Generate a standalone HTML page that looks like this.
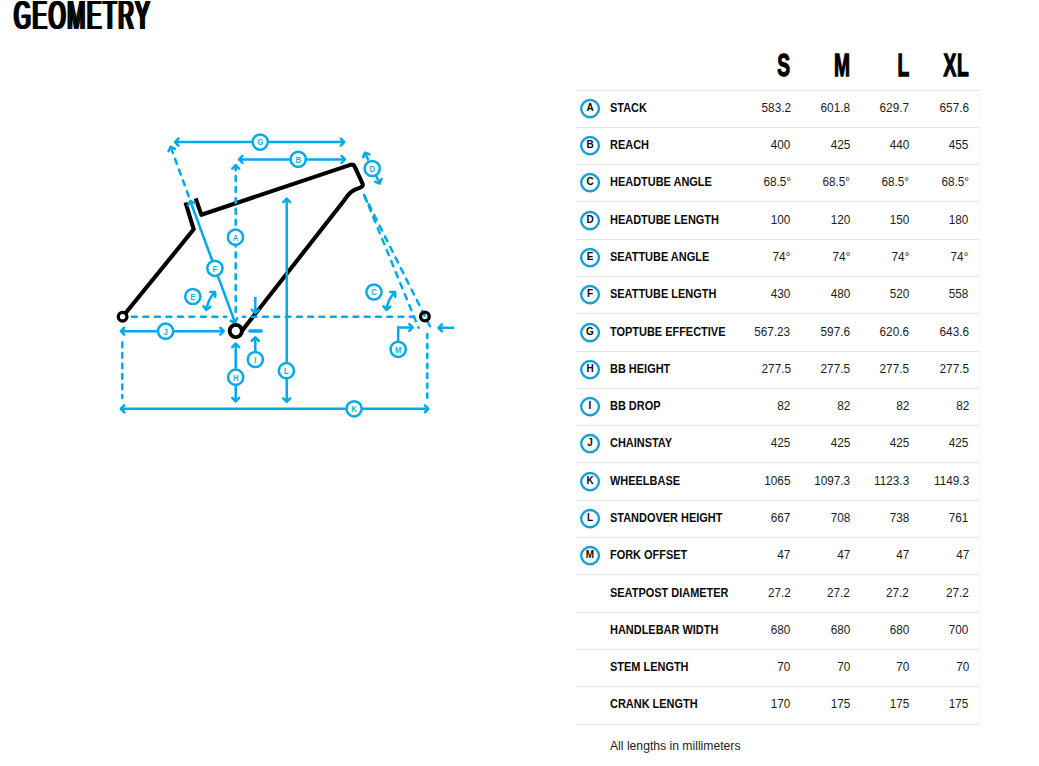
<!DOCTYPE html>
<html lang="en">
<head>
<meta charset="utf-8">
<title>Geometry</title>
<style>
html,body{margin:0;padding:0;background:#fff;}
body{width:1039px;height:766px;position:relative;overflow:hidden;font-family:"Liberation Sans",sans-serif;color:#111;}
h1{position:absolute;left:14.4px;top:-9px;margin:0;font-size:40.5px;line-height:48px;font-weight:normal;color:#000;transform-origin:0 0;transform:scaleX(0.532);white-space:nowrap;letter-spacing:3.4px;text-shadow:2.8px 0 0 #000,-2.8px 0 0 #000;}
.dia{position:absolute;left:0;top:0;}
.hd{position:absolute;top:45.9px;height:40px;line-height:40px;font-size:30px;font-weight:bold;color:#000;text-align:right;white-space:nowrap;transform-origin:100% 50%;transform:scale(0.64,1.03);-webkit-text-stroke:1.3px #000;}
.ln{position:absolute;left:576px;width:404px;height:1px;background:#e5e5e5;}
.row{position:absolute;left:576px;width:404px;height:36px;}
.edge{position:absolute;left:979px;top:91px;width:1px;height:634px;background:#f8f8f8;}
.ic{position:absolute;left:4px;top:8px;width:20px;height:20px;font-size:10px;line-height:20px;font-weight:bold;text-align:center;color:#0a0a0a;}
.rings{position:absolute;left:570px;top:0;}
.lb{position:absolute;left:34.4px;top:0;line-height:35px;font-size:12.8px;font-weight:bold;color:#0a0a0a;white-space:nowrap;transform-origin:0 50%;transform:scaleX(0.856);}
.v{position:absolute;top:0;line-height:35px;font-size:12.8px;color:#1c1c1c;text-align:right;white-space:nowrap;transform-origin:100% 50%;transform:scaleX(0.92);}
.v0{right:189.4px} .v1{right:130px} .v2{right:70.6px} .v3{right:11.2px}
.note{position:absolute;left:610.3px;top:737px;font-size:12.4px;line-height:18px;color:#1c1c1c;white-space:nowrap;transform-origin:0 50%;transform:scaleX(0.982);}
</style>
</head>
<body>
<h1>GEOMETRY</h1>
<svg class="dia" width="520" height="440" viewBox="0 0 520 440">
<path d="M122.6,316.7 L193.7,229.4 L185.5,202.5" fill="none" stroke="#000" stroke-width="4.1" stroke-linejoin="miter" stroke-linecap="butt"/>
<path d="M195.7,198.3 L201.4,214.8 L350.3,164.9 Q353.4,163.9 354.7,166.7 L362.4,183.4 Q363.7,186.3 360.8,187.3 L354.5,189.8 Q349,192.5 344.5,200 L239.5,334" fill="none" stroke="#000" stroke-width="4.1" stroke-linejoin="round" stroke-linecap="butt"/>
<line x1="131.90" y1="316.80" x2="226.40" y2="316.80" stroke="#00a9ea" stroke-width="2.5" stroke-linecap="round" stroke-dasharray="5.0 6.5"/>
<line x1="242.90" y1="316.80" x2="245.30" y2="316.80" stroke="#00a9ea" stroke-width="2.5" stroke-linecap="round"/>
<line x1="251.75" y1="316.80" x2="414.00" y2="316.80" stroke="#00a9ea" stroke-width="2.5" stroke-linecap="round" stroke-dasharray="4.8 6.5"/>
<line x1="175.00" y1="142.10" x2="344.30" y2="142.10" stroke="#00a9ea" stroke-width="2.5" stroke-linecap="butt"/>
<polyline points="340.85,145.55 344.30,142.10 340.85,138.65" fill="none" stroke="#00a9ea" stroke-width="2.5" stroke-linecap="round" stroke-linejoin="round"/>
<polyline points="178.45,138.65 175.00,142.10 178.45,145.55" fill="none" stroke="#00a9ea" stroke-width="2.5" stroke-linecap="round" stroke-linejoin="round"/>
<line x1="239.00" y1="159.40" x2="345.00" y2="159.40" stroke="#00a9ea" stroke-width="2.5" stroke-linecap="butt"/>
<polyline points="341.55,162.85 345.00,159.40 341.55,155.95" fill="none" stroke="#00a9ea" stroke-width="2.5" stroke-linecap="round" stroke-linejoin="round"/>
<polyline points="242.45,155.95 239.00,159.40 242.45,162.85" fill="none" stroke="#00a9ea" stroke-width="2.5" stroke-linecap="round" stroke-linejoin="round"/>
<line x1="235.70" y1="312.00" x2="235.70" y2="165.20" stroke="#00a9ea" stroke-width="2.5" stroke-linecap="round" stroke-dasharray="5.1 5.8"/>
<polyline points="239.15,168.65 235.70,165.20 232.25,168.65" fill="none" stroke="#00a9ea" stroke-width="2.5" stroke-linecap="round" stroke-linejoin="round"/>
<line x1="188.70" y1="196.10" x2="170.60" y2="146.80" stroke="#00a9ea" stroke-width="2.5" stroke-linecap="round" stroke-dasharray="5.2 6.3"/>
<polyline points="175.03,148.85 170.60,146.80 168.55,151.23" fill="none" stroke="#00a9ea" stroke-width="2.5" stroke-linecap="round" stroke-linejoin="round"/>
<line x1="235.10" y1="322.80" x2="190.30" y2="201.00" stroke="#00a9ea" stroke-width="2.5" stroke-linecap="butt"/>
<polyline points="194.73,203.05 190.30,201.00 188.25,205.43" fill="none" stroke="#00a9ea" stroke-width="2.5" stroke-linecap="round" stroke-linejoin="round"/>
<polyline points="230.67,320.75 235.10,322.80 237.15,318.37" fill="none" stroke="#00a9ea" stroke-width="2.5" stroke-linecap="round" stroke-linejoin="round"/>
<line x1="286.70" y1="198.70" x2="286.70" y2="401.80" stroke="#00a9ea" stroke-width="2.5" stroke-linecap="butt"/>
<polyline points="283.25,398.35 286.70,401.80 290.15,398.35" fill="none" stroke="#00a9ea" stroke-width="2.5" stroke-linecap="round" stroke-linejoin="round"/>
<polyline points="290.15,202.15 286.70,198.70 283.25,202.15" fill="none" stroke="#00a9ea" stroke-width="2.5" stroke-linecap="round" stroke-linejoin="round"/>
<line x1="235.70" y1="343.60" x2="235.70" y2="401.40" stroke="#00a9ea" stroke-width="2.5" stroke-linecap="butt"/>
<polyline points="232.25,397.95 235.70,401.40 239.15,397.95" fill="none" stroke="#00a9ea" stroke-width="2.5" stroke-linecap="round" stroke-linejoin="round"/>
<polyline points="239.15,347.05 235.70,343.60 232.25,347.05" fill="none" stroke="#00a9ea" stroke-width="2.5" stroke-linecap="round" stroke-linejoin="round"/>
<line x1="255.30" y1="352.00" x2="255.30" y2="337.30" stroke="#00a9ea" stroke-width="2.5" stroke-linecap="butt"/>
<polyline points="258.75,340.75 255.30,337.30 251.85,340.75" fill="none" stroke="#00a9ea" stroke-width="2.5" stroke-linecap="round" stroke-linejoin="round"/>
<line x1="255.30" y1="297.00" x2="255.30" y2="313.20" stroke="#00a9ea" stroke-width="2.5" stroke-linecap="butt"/>
<polyline points="251.85,309.75 255.30,313.20 258.75,309.75" fill="none" stroke="#00a9ea" stroke-width="2.5" stroke-linecap="round" stroke-linejoin="round"/>
<line x1="249.90" y1="331.00" x2="261.20" y2="331.00" stroke="#00a9ea" stroke-width="3.4" stroke-linecap="round"/>
<line x1="120.80" y1="331.20" x2="223.80" y2="331.20" stroke="#00a9ea" stroke-width="2.5" stroke-linecap="butt"/>
<polyline points="220.35,334.65 223.80,331.20 220.35,327.75" fill="none" stroke="#00a9ea" stroke-width="2.5" stroke-linecap="round" stroke-linejoin="round"/>
<polyline points="124.25,327.75 120.80,331.20 124.25,334.65" fill="none" stroke="#00a9ea" stroke-width="2.5" stroke-linecap="round" stroke-linejoin="round"/>
<line x1="120.80" y1="408.80" x2="428.40" y2="408.80" stroke="#00a9ea" stroke-width="2.5" stroke-linecap="butt"/>
<polyline points="424.95,412.25 428.40,408.80 424.95,405.35" fill="none" stroke="#00a9ea" stroke-width="2.5" stroke-linecap="round" stroke-linejoin="round"/>
<polyline points="124.25,405.35 120.80,408.80 124.25,412.25" fill="none" stroke="#00a9ea" stroke-width="2.5" stroke-linecap="round" stroke-linejoin="round"/>
<line x1="122.30" y1="342.60" x2="122.30" y2="398.00" stroke="#00a9ea" stroke-width="2.5" stroke-linecap="round" stroke-dasharray="4.6 5.9"/>
<line x1="427.30" y1="334.00" x2="427.30" y2="398.00" stroke="#00a9ea" stroke-width="2.5" stroke-linecap="round" stroke-dasharray="4.3 5.6"/>
<line x1="364.20" y1="195.10" x2="418.60" y2="327.80" stroke="#00a9ea" stroke-width="2.5" stroke-linecap="round" stroke-dasharray="5.4 6.5"/>
<line x1="364.20" y1="195.10" x2="366.90" y2="201.70" stroke="#00a9ea" stroke-width="2.5" stroke-linecap="round"/>
<line x1="368.90" y1="204.40" x2="430.60" y2="327.60" stroke="#00a9ea" stroke-width="2.5" stroke-linecap="round" stroke-dasharray="5.4 6.5"/>
<line x1="454.00" y1="327.80" x2="438.50" y2="327.80" stroke="#00a9ea" stroke-width="2.5" stroke-linecap="butt"/>
<polyline points="441.95,324.35 438.50,327.80 441.95,331.25" fill="none" stroke="#00a9ea" stroke-width="2.5" stroke-linecap="round" stroke-linejoin="round"/>
<polyline points="398.2,342 398.2,327.5 412.5,327.5" fill="none" stroke="#00a9ea" stroke-width="2.5"/>
<polyline points="409.25,330.95 412.70,327.50 409.25,324.05" fill="none" stroke="#00a9ea" stroke-width="2.5" stroke-linecap="round" stroke-linejoin="round"/>
<line x1="368.50" y1="160.50" x2="364.90" y2="152.70" stroke="#00a9ea" stroke-width="2.5" stroke-linecap="butt"/>
<polyline points="369.48,154.39 364.90,152.70 363.21,157.28" fill="none" stroke="#00a9ea" stroke-width="2.5" stroke-linecap="round" stroke-linejoin="round"/>
<line x1="376.00" y1="175.50" x2="379.70" y2="183.60" stroke="#00a9ea" stroke-width="2.5" stroke-linecap="butt"/>
<polyline points="375.13,181.90 379.70,183.60 381.40,179.03" fill="none" stroke="#00a9ea" stroke-width="2.5" stroke-linecap="round" stroke-linejoin="round"/>
<path d="M215.20,291.90 Q207.60,299.60 206.50,309.90" fill="none" stroke="#00a9ea" stroke-width="2.5"/>
<polyline points="215.23,296.78 215.20,291.90 210.32,291.93" fill="none" stroke="#00a9ea" stroke-width="2.5" stroke-linecap="round" stroke-linejoin="round"/>
<polyline points="203.44,306.10 206.50,309.90 210.30,306.84" fill="none" stroke="#00a9ea" stroke-width="2.5" stroke-linecap="round" stroke-linejoin="round"/>
<path d="M395.20,291.90 Q387.60,299.60 386.50,309.90" fill="none" stroke="#00a9ea" stroke-width="2.5"/>
<polyline points="395.23,296.78 395.20,291.90 390.32,291.93" fill="none" stroke="#00a9ea" stroke-width="2.5" stroke-linecap="round" stroke-linejoin="round"/>
<polyline points="383.44,306.10 386.50,309.90 390.30,306.84" fill="none" stroke="#00a9ea" stroke-width="2.5" stroke-linecap="round" stroke-linejoin="round"/>
<circle cx="260.2" cy="142.1" r="7.6" fill="#fff" stroke="#00a9ea" stroke-width="2.5"/>
<text transform="translate(260.2 145.4) scale(0.8 1)" text-anchor="middle" font-size="9.6" opacity="0.92" font-weight="bold" fill="#00a9ea" font-family="'Liberation Sans', sans-serif">G</text>
<circle cx="298.2" cy="159.3" r="7.6" fill="#fff" stroke="#00a9ea" stroke-width="2.5"/>
<text transform="translate(298.2 162.60000000000002) scale(0.8 1)" text-anchor="middle" font-size="9.6" opacity="0.92" font-weight="bold" fill="#00a9ea" font-family="'Liberation Sans', sans-serif">B</text>
<circle cx="372.2" cy="168.5" r="7.6" fill="#fff" stroke="#00a9ea" stroke-width="2.5"/>
<text transform="translate(372.2 171.8) scale(0.8 1)" text-anchor="middle" font-size="9.6" opacity="0.92" font-weight="bold" fill="#00a9ea" font-family="'Liberation Sans', sans-serif">D</text>
<circle cx="235.5" cy="237.2" r="7.6" fill="#fff" stroke="#00a9ea" stroke-width="2.5"/>
<text transform="translate(235.5 240.5) scale(0.8 1)" text-anchor="middle" font-size="9.6" opacity="0.92" font-weight="bold" fill="#00a9ea" font-family="'Liberation Sans', sans-serif">A</text>
<circle cx="214.9" cy="268.3" r="7.6" fill="#fff" stroke="#00a9ea" stroke-width="2.5"/>
<text transform="translate(214.9 271.6) scale(0.8 1)" text-anchor="middle" font-size="9.6" opacity="0.92" font-weight="bold" fill="#00a9ea" font-family="'Liberation Sans', sans-serif">F</text>
<circle cx="192.8" cy="296.5" r="7.6" fill="#fff" stroke="#00a9ea" stroke-width="2.5"/>
<text transform="translate(192.8 299.8) scale(0.8 1)" text-anchor="middle" font-size="9.6" opacity="0.92" font-weight="bold" fill="#00a9ea" font-family="'Liberation Sans', sans-serif">E</text>
<circle cx="374" cy="292" r="7.6" fill="#fff" stroke="#00a9ea" stroke-width="2.5"/>
<text transform="translate(374 295.3) scale(0.8 1)" text-anchor="middle" font-size="9.6" opacity="0.92" font-weight="bold" fill="#00a9ea" font-family="'Liberation Sans', sans-serif">C</text>
<circle cx="165.6" cy="331.2" r="7.6" fill="#fff" stroke="#00a9ea" stroke-width="2.5"/>
<text transform="translate(165.6 334.5) scale(0.8 1)" text-anchor="middle" font-size="9.6" opacity="0.92" font-weight="bold" fill="#00a9ea" font-family="'Liberation Sans', sans-serif">J</text>
<circle cx="255.3" cy="359.5" r="7.6" fill="#fff" stroke="#00a9ea" stroke-width="2.5"/>
<text transform="translate(255.3 362.8) scale(0.8 1)" text-anchor="middle" font-size="9.6" opacity="0.92" font-weight="bold" fill="#00a9ea" font-family="'Liberation Sans', sans-serif">I</text>
<circle cx="235.7" cy="377.2" r="7.6" fill="#fff" stroke="#00a9ea" stroke-width="2.5"/>
<text transform="translate(235.7 380.5) scale(0.8 1)" text-anchor="middle" font-size="9.6" opacity="0.92" font-weight="bold" fill="#00a9ea" font-family="'Liberation Sans', sans-serif">H</text>
<circle cx="286.4" cy="370.7" r="7.6" fill="#fff" stroke="#00a9ea" stroke-width="2.5"/>
<text transform="translate(286.4 374.0) scale(0.8 1)" text-anchor="middle" font-size="9.6" opacity="0.92" font-weight="bold" fill="#00a9ea" font-family="'Liberation Sans', sans-serif">L</text>
<circle cx="354.1" cy="408.8" r="7.6" fill="#fff" stroke="#00a9ea" stroke-width="2.5"/>
<text transform="translate(354.1 412.1) scale(0.8 1)" text-anchor="middle" font-size="9.6" opacity="0.92" font-weight="bold" fill="#00a9ea" font-family="'Liberation Sans', sans-serif">K</text>
<circle cx="398.2" cy="349.3" r="7.6" fill="#fff" stroke="#00a9ea" stroke-width="2.5"/>
<text transform="translate(398.2 352.6) scale(0.8 1)" text-anchor="middle" font-size="9.6" opacity="0.92" font-weight="bold" fill="#00a9ea" font-family="'Liberation Sans', sans-serif">M</text>
<circle cx="122.6" cy="316.7" r="4.3" fill="#fff" stroke="#000" stroke-width="3.3"/>
<circle cx="424.9" cy="316.5" r="4.3" fill="none" stroke="#000" stroke-width="3.3"/>
<circle cx="235.8" cy="331" r="6.1" fill="#fff" stroke="#000" stroke-width="3.9"/>
</svg>
<div class="hd" style="right:249px">S</div>
<div class="hd" style="right:189.5px">M</div>
<div class="hd" style="right:130px">L</div>
<div class="hd" style="right:70.5px;letter-spacing:1px;margin-right:-1px">XL</div>
<div class="ln" style="top:90px"></div>
<div class="ln" style="top:127px"></div>
<div class="ln" style="top:164px"></div>
<div class="ln" style="top:201px"></div>
<div class="ln" style="top:239px"></div>
<div class="ln" style="top:276px"></div>
<div class="ln" style="top:313px"></div>
<div class="ln" style="top:351px"></div>
<div class="ln" style="top:388px"></div>
<div class="ln" style="top:425px"></div>
<div class="ln" style="top:462px"></div>
<div class="ln" style="top:500px"></div>
<div class="ln" style="top:537px"></div>
<div class="ln" style="top:574px"></div>
<div class="ln" style="top:612px"></div>
<div class="ln" style="top:649px"></div>
<div class="ln" style="top:686px"></div>
<div class="ln" style="top:724px"></div>
<div class="row" style="top:90px">
<span class="ic">A</span>
<span class="lb">STACK</span>
<span class="v v0">583.2</span>
<span class="v v1">601.8</span>
<span class="v v2">629.7</span>
<span class="v v3">657.6</span>
</div>
<div class="row" style="top:127px">
<span class="ic">B</span>
<span class="lb">REACH</span>
<span class="v v0">400</span>
<span class="v v1">425</span>
<span class="v v2">440</span>
<span class="v v3">455</span>
</div>
<div class="row" style="top:164px">
<span class="ic">C</span>
<span class="lb">HEADTUBE ANGLE</span>
<span class="v v0">68.5°</span>
<span class="v v1">68.5°</span>
<span class="v v2">68.5°</span>
<span class="v v3">68.5°</span>
</div>
<div class="row" style="top:202px">
<span class="ic">D</span>
<span class="lb">HEADTUBE LENGTH</span>
<span class="v v0">100</span>
<span class="v v1">120</span>
<span class="v v2">150</span>
<span class="v v3">180</span>
</div>
<div class="row" style="top:239px">
<span class="ic">E</span>
<span class="lb">SEATTUBE ANGLE</span>
<span class="v v0">74°</span>
<span class="v v1">74°</span>
<span class="v v2">74°</span>
<span class="v v3">74°</span>
</div>
<div class="row" style="top:276px">
<span class="ic">F</span>
<span class="lb">SEATTUBE LENGTH</span>
<span class="v v0">430</span>
<span class="v v1">480</span>
<span class="v v2">520</span>
<span class="v v3">558</span>
</div>
<div class="row" style="top:314px">
<span class="ic">G</span>
<span class="lb">TOPTUBE EFFECTIVE</span>
<span class="v v0">567.23</span>
<span class="v v1">597.6</span>
<span class="v v2">620.6</span>
<span class="v v3">643.6</span>
</div>
<div class="row" style="top:351px">
<span class="ic">H</span>
<span class="lb">BB HEIGHT</span>
<span class="v v0">277.5</span>
<span class="v v1">277.5</span>
<span class="v v2">277.5</span>
<span class="v v3">277.5</span>
</div>
<div class="row" style="top:388px">
<span class="ic">I</span>
<span class="lb">BB DROP</span>
<span class="v v0">82</span>
<span class="v v1">82</span>
<span class="v v2">82</span>
<span class="v v3">82</span>
</div>
<div class="row" style="top:425px">
<span class="ic">J</span>
<span class="lb">CHAINSTAY</span>
<span class="v v0">425</span>
<span class="v v1">425</span>
<span class="v v2">425</span>
<span class="v v3">425</span>
</div>
<div class="row" style="top:463px">
<span class="ic">K</span>
<span class="lb">WHEELBASE</span>
<span class="v v0">1065</span>
<span class="v v1">1097.3</span>
<span class="v v2">1123.3</span>
<span class="v v3">1149.3</span>
</div>
<div class="row" style="top:500px">
<span class="ic">L</span>
<span class="lb">STANDOVER HEIGHT</span>
<span class="v v0">667</span>
<span class="v v1">708</span>
<span class="v v2">738</span>
<span class="v v3">761</span>
</div>
<div class="row" style="top:537px">
<span class="ic">M</span>
<span class="lb">FORK OFFSET</span>
<span class="v v0">47</span>
<span class="v v1">47</span>
<span class="v v2">47</span>
<span class="v v3">47</span>
</div>
<div class="row" style="top:575px">
<span class="lb">SEATPOST DIAMETER</span>
<span class="v v0">27.2</span>
<span class="v v1">27.2</span>
<span class="v v2">27.2</span>
<span class="v v3">27.2</span>
</div>
<div class="row" style="top:612px">
<span class="lb">HANDLEBAR WIDTH</span>
<span class="v v0">680</span>
<span class="v v1">680</span>
<span class="v v2">680</span>
<span class="v v3">700</span>
</div>
<div class="row" style="top:649px">
<span class="lb">STEM LENGTH</span>
<span class="v v0">70</span>
<span class="v v1">70</span>
<span class="v v2">70</span>
<span class="v v3">70</span>
</div>
<div class="row" style="top:686px">
<span class="lb">CRANK LENGTH</span>
<span class="v v0">170</span>
<span class="v v1">175</span>
<span class="v v2">175</span>
<span class="v v3">175</span>
</div>
<div class="edge"></div>
<svg class="rings" width="40" height="766" viewBox="0 0 40 766" fill="none" stroke="#189dd9" stroke-width="2.4"><ellipse cx="20.05" cy="108.6" rx="8.9" ry="8.6"/><ellipse cx="20.05" cy="145.6" rx="8.9" ry="8.6"/><ellipse cx="20.05" cy="182.6" rx="8.9" ry="8.6"/><ellipse cx="20.05" cy="220.6" rx="8.9" ry="8.6"/><ellipse cx="20.05" cy="257.6" rx="8.9" ry="8.6"/><ellipse cx="20.05" cy="294.6" rx="8.9" ry="8.6"/><ellipse cx="20.05" cy="332.6" rx="8.9" ry="8.6"/><ellipse cx="20.05" cy="369.6" rx="8.9" ry="8.6"/><ellipse cx="20.05" cy="406.6" rx="8.9" ry="8.6"/><ellipse cx="20.05" cy="443.6" rx="8.9" ry="8.6"/><ellipse cx="20.05" cy="481.6" rx="8.9" ry="8.6"/><ellipse cx="20.05" cy="518.6" rx="8.9" ry="8.6"/><ellipse cx="20.05" cy="555.6" rx="8.9" ry="8.6"/></svg>
<div class="note">All lengths in millimeters</div>
</body>
</html>
